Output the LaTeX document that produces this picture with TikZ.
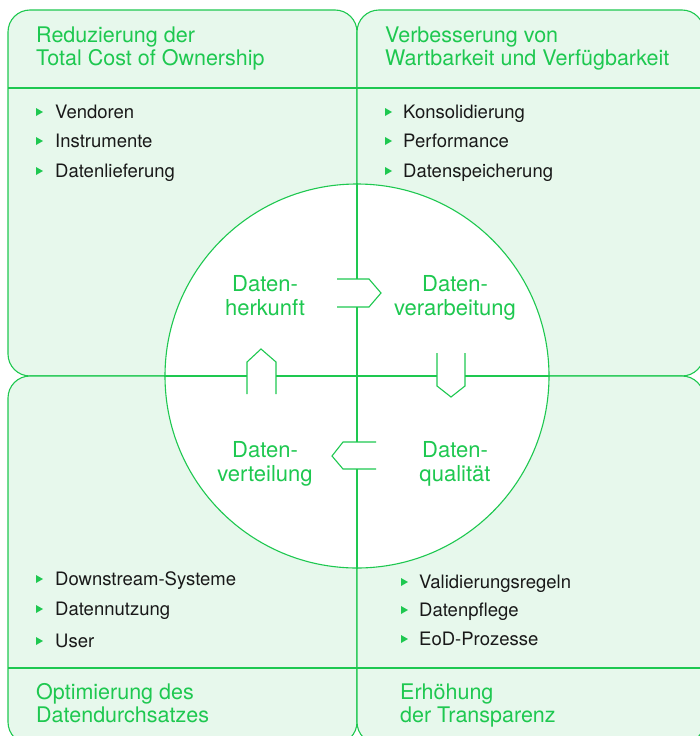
\documentclass[tikz,border=0pt]{standalone}
\usepackage{fontspec}
\setmainfont{TeX Gyre Heros}
\usetikzlibrary{positioning}
\definecolor{mint}{RGB}{231,248,236}
\definecolor{leaf}{RGB}{30,200,80}
\definecolor{ink}{RGB}{25,25,25}

\begin{document}
\begin{tikzpicture}[x=1pt, y=-1pt,
  box/.style={draw=leaf, fill=mint, line width=1.1pt, rounded corners=22pt},
  rule/.style={draw=leaf, line width=1.1pt},
  head/.style={anchor=base west, align=left, text=leaf, inner sep=0pt, font=\fontsize{21.5}{23}\selectfont},
  phase/.style={anchor=base, align=center, text=leaf, inner sep=0pt, font=\fontsize{22}{24}\selectfont},
  item/.style={anchor=base west, text=ink, inner sep=0pt, font=\fontsize{18.5}{20}\selectfont}]
  \clip (0,0) rectangle (700,736);
  % four quadrants
  \draw[box] (8,10)    rectangle (357,376);
  \draw[box] (357,10)  rectangle (704,376);
  \draw[box] (8,376)   rectangle (357,744);
  \draw[box] (357,376) rectangle (704,744);
  \draw[rule] (8,88)  -- (704,88);
  \draw[rule] (8,668) -- (704,668);
  % wheel in the middle
  \coordinate (hub) at (357,376);
  \node[circle, draw=leaf, fill=white, line width=1.1pt, minimum size=384pt, inner sep=0pt] (wheel) at (hub) {};
  \draw[rule] (wheel.north) -- (357,279)  (357,307) -- (357,442)  (357,469) -- (wheel.south);
  \draw[rule] (wheel.west) -- (247,376)  (276,376) -- (437,376)  (465,376) -- (wheel.east);
  % open arrow tags on the cross
  \draw[rule] (337,279) -- (369,279) -- (381,293) -- (369,307) -- (337,307);
  \draw[rule] (437,353) -- (437,386) -- (451,397) -- (465,386) -- (465,353);
  \draw[rule] (376,442) -- (343,442) -- (332,456) -- (343,469) -- (376,469);
  \draw[rule] (247,394) -- (247,362) -- (261,349) -- (276,362) -- (276,394);
  % phases (base = last line)
  \node[phase] (herkunft)     at (265,315) {Daten-\\herkunft};
  \node[phase] (verarbeitung) at (455,315) {Daten-\\verarbeitung};
  \node[phase] (verteilung)   at (265,481) {Daten-\\verteilung};
  \node[phase] (qualitaet)    at (455,481) {Daten-\\qualität};
  % headers and footers
  \node[head] (tco)   at (36,65)   {Reduzierung der\\Total Cost of Ownership};
  \node[head] (wart)  at (385,65)  {Verbesserung von\\Wartbarkeit und Verfügbarkeit};
  \node[head] (durch) at (36,722)  {Optimierung des\\Datendurchsatzes};
  \node[head] (trans) at (400,722) {Erhöhung\\der Transparenz};
  % bullet lists
  \foreach \y/\t [count=\i] in {118/Vendoren, 147/Instrumente, 177/Datenlieferung} {
    \fill[leaf] (36,\y-10) -- (43,\y-6) -- (36,\y-2) -- cycle;
    \node[item] (tco\i) at (55,\y) {\t};
  }
  \foreach \y/\t [count=\i] in {118/Konsolidierung, 147/Performance, 177/Datenspeicherung} {
    \fill[leaf] (385,\y-10) -- (392,\y-6) -- (385,\y-2) -- cycle;
    \node[item] (wart\i) at (403,\y) {\t};
  }
  \foreach \y/\t [count=\i] in {585/Downstream-Systeme, 615/Datennutzung, 647/User} {
    \fill[leaf] (36,\y-10) -- (43,\y-6) -- (36,\y-2) -- cycle;
    \node[item] (durch\i) at (55,\y) {\t};
  }
  \foreach \y/\t [count=\i] in {588/Validierungsregeln, 616/Datenpflege, 645/EoD-Prozesse} {
    \fill[leaf] (401,\y-10) -- (408,\y-6) -- (401,\y-2) -- cycle;
    \node[item] (trans\i) at (419,\y) {\t};
  }
\end{tikzpicture}
\end{document}
